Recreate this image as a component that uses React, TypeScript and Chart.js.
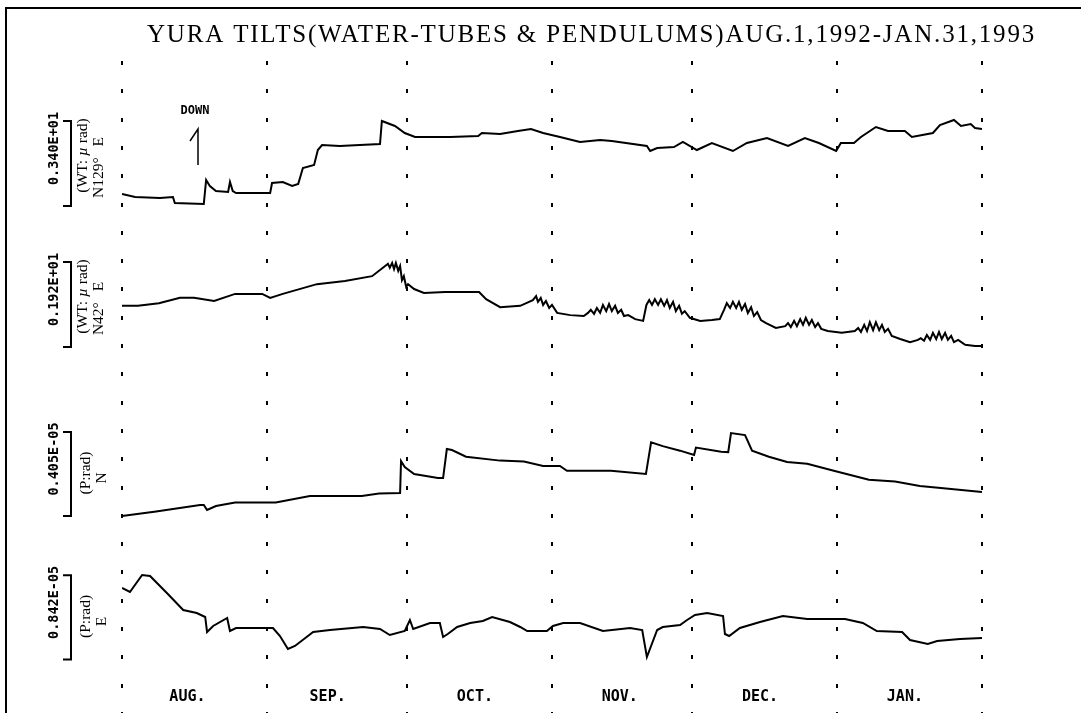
import React, { useEffect, useRef } from "react";
import { Chart, registerables } from "chart.js";

Chart.register(...registerables);

// ---------- text ----------
const TITLE = "YURA TILTS(WATER-TUBES & PENDULUMS)AUG.1,1992-JAN.31,1993";
const monthNames = ["AUG.", "SEP.", "OCT.", "NOV.", "DEC.", "JAN."];
// days since Aug 1, 1992
const monthBoundaryDays = [0, 31, 61, 92, 122, 153, 184];
const monthLabelDays = [14, 44, 75.5, 106.5, 136.5, 167.5];

// scale bars (µrad) and their labels
const scaleValues = [3.4, 1.92, 4.05, 8.42];
const scaleLabels = ["0.340E+01", "0.192E+01", "0.405E-05", "0.842E-05"];
const unitLabels = ["(WT: µ rad)", "(WT: µ rad)", "(P:rad)", "(P:rad)"];
const dirLabels = ["N129°\u2002\u2009E", "N42°\u2002\u2009E", "N", "E"];

// ---------- data: [day, relative tilt (µrad)] ----------
const t1Readings: [number, number][] = [
  [0, 0.48], [2.8, 0.36], [8.1, 0.32], [10.9, 0.36], [11.3, 0.12], [17.5, 0.08], [18.0, 1.04], [18.8, 0.8],
  [20.1, 0.6], [22.7, 0.56], [23.1, 0.96], [23.7, 0.6], [24.4, 0.52], [31.7, 0.52], [32.1, 0.92], [34.4, 0.96],
  [36.4, 0.8], [37.7, 0.88], [38.7, 1.52], [41.1, 1.64], [41.9, 2.24], [42.8, 2.44], [46.6, 2.4], [50.9, 2.44],
  [55.2, 2.48], [55.6, 3.4], [58.4, 3.2], [60.5, 2.92], [62.7, 2.76], [70.2, 2.76], [76.2, 2.8], [77.0, 2.92],
  [80.9, 2.88], [84.7, 3.0], [87.5, 3.08], [90.1, 2.92], [93.7, 2.76], [98.0, 2.56], [102.3, 2.64], [104.8, 2.6],
  [112.3, 2.4], [113.0, 2.2], [114.5, 2.32], [118.1, 2.36], [120.0, 2.56], [123.0, 2.24], [126.2, 2.52], [130.7, 2.2],
  [133.7, 2.52], [138.0, 2.72], [142.5, 2.4], [146.1, 2.72], [149.1, 2.52], [152.8, 2.2], [153.8, 2.52], [156.6, 2.52],
  [158.1, 2.76], [161.3, 3.16], [163.9, 3.0], [167.5, 3.0], [169.0, 2.76], [173.5, 2.92], [175.0, 3.24], [178.0, 3.44],
  [179.5, 3.2], [181.6, 3.28], [182.5, 3.12], [184, 3.08],
];

const t2Readings: [number, number][] = [
  [0, 0.93], [3.4, 0.93], [7.9, 0.99], [12.4, 1.11], [15.4, 1.11], [19.7, 1.04], [24.2, 1.2], [30.0, 1.2],
  [31.7, 1.11], [34.4, 1.2], [41.7, 1.42], [47.7, 1.49], [53.5, 1.6], [56.3, 1.83], [56.9, 1.88], [57.3, 1.79],
  [57.8, 1.9], [58.2, 1.76], [58.6, 1.9], [59.1, 1.72], [59.5, 1.83], [59.9, 1.51], [60.3, 1.6], [60.8, 1.36],
  [61.2, 1.42], [62.5, 1.31], [64.6, 1.22], [69.1, 1.24], [76.4, 1.24], [77.9, 1.08], [80.9, 0.9], [85.2, 0.93],
  [87.9, 1.06], [88.6, 1.15], [89.0, 1.02], [89.6, 1.11], [90.1, 0.95], [90.7, 1.04], [91.4, 0.88], [92.0, 0.95],
  [93.1, 0.77], [95.9, 0.72], [98.8, 0.7], [99.7, 0.77], [100.3, 0.84], [101.0, 0.75], [101.6, 0.88], [102.3, 0.77],
  [102.9, 0.95], [103.6, 0.81], [104.2, 0.97], [104.8, 0.81], [105.5, 0.93], [106.1, 0.77], [106.8, 0.84], [107.4, 0.7],
  [108.3, 0.72], [109.8, 0.63], [111.5, 0.59], [112.2, 0.95], [112.8, 1.06], [113.4, 0.95], [114.0, 1.08], [114.7, 0.95],
  [115.3, 1.08], [116.0, 0.93], [116.6, 1.06], [117.2, 0.88], [117.9, 1.02], [118.5, 0.81], [119.2, 0.93], [119.8, 0.75],
  [120.4, 0.81], [121.5, 0.66], [123.7, 0.59], [126.2, 0.61], [127.9, 0.63], [128.8, 0.84], [129.4, 0.99], [130.1, 0.88],
  [130.7, 1.02], [131.4, 0.88], [132.0, 1.02], [132.6, 0.84], [133.3, 0.97], [133.9, 0.77], [134.6, 0.9], [135.2, 0.7],
  [135.9, 0.79], [136.7, 0.61], [137.8, 0.54], [139.9, 0.43], [141.9, 0.47], [142.5, 0.54], [143.1, 0.45], [143.8, 0.59],
  [144.4, 0.47], [145.1, 0.63], [145.7, 0.5], [146.3, 0.66], [147.0, 0.5], [147.6, 0.61], [148.3, 0.45], [148.9, 0.54],
  [149.6, 0.41], [151.0, 0.36], [154.0, 0.32], [156.8, 0.36], [157.5, 0.43], [158.1, 0.34], [158.8, 0.5], [159.4, 0.36],
  [160.0, 0.56], [160.7, 0.38], [161.3, 0.56], [162.0, 0.38], [162.6, 0.5], [163.2, 0.34], [163.9, 0.41], [164.7, 0.25],
  [166.5, 0.18], [168.6, 0.11], [170.3, 0.16], [170.9, 0.2], [171.6, 0.14], [172.2, 0.27], [172.9, 0.16], [173.5, 0.32],
  [174.2, 0.18], [174.8, 0.34], [175.4, 0.18], [176.1, 0.32], [176.7, 0.16], [177.4, 0.25], [178.0, 0.11], [178.9, 0.16],
  [180.4, 0.05], [182.5, 0.02], [184, 0.02],
];

const t3Readings: [number, number][] = [
  [0, 0], [7.3, 0.22], [16.7, 0.53], [17.5, 0.53], [18.2, 0.29], [20.1, 0.48], [24.2, 0.65], [32.9, 0.65],
  [40.2, 0.96], [51.3, 0.96], [55.0, 1.08], [59.5, 1.11], [59.7, 2.65], [60.5, 2.36], [62.5, 2.02], [67.6, 1.83],
  [68.7, 1.83], [69.5, 3.23], [70.6, 3.18], [73.6, 2.86], [80.9, 2.67], [86.0, 2.63], [90.1, 2.41], [93.7, 2.41],
  [95.2, 2.18], [104.6, 2.18], [112.1, 2.03], [113.2, 3.55], [115.7, 3.37], [119.4, 3.15], [122.4, 2.94], [122.8, 3.3],
  [128.2, 3.1], [129.7, 3.08], [130.3, 4.0], [133.3, 3.9], [134.8, 3.15], [138.4, 2.86], [142.3, 2.6], [146.6, 2.52],
  [152.5, 2.17], [159.8, 1.75], [165.4, 1.66], [170.7, 1.45], [175.2, 1.35], [184, 1.16],
];

const t4Readings: [number, number][] = [
  [0, 7.15], [1.7, 6.75], [4.3, 8.45], [6.0, 8.35], [9.6, 6.65], [13.1, 4.95], [16.0, 4.65], [17.8, 4.25],
  [18.2, 2.75], [19.5, 3.35], [22.5, 4.15], [23.1, 2.85], [24.4, 3.15], [32.3, 3.15], [33.8, 2.35], [35.5, 1.05],
  [37.0, 1.35], [40.9, 2.75], [44.5, 2.95], [51.6, 3.25], [55.2, 3.05], [57.3, 2.45], [60.5, 2.85], [61.6, 3.95],
  [62.3, 3.05], [65.9, 3.65], [68.0, 3.65], [68.7, 2.25], [69.7, 2.55], [71.7, 3.25], [74.5, 3.65], [77.2, 3.85],
  [79.2, 4.25], [83.0, 3.75], [85.2, 3.25], [86.7, 2.85], [90.9, 2.85], [92.2, 3.35], [94.4, 3.65], [98.0, 3.65],
  [102.9, 2.85], [108.7, 3.15], [111.3, 2.95], [112.3, 0.25], [114.5, 2.95], [115.7, 3.25], [119.4, 3.45], [120.9, 3.95],
  [122.6, 4.45], [125.2, 4.65], [128.6, 4.35], [129.0, 2.55], [129.9, 2.35], [132.2, 3.15], [136.5, 3.75], [141.4, 4.35],
  [146.6, 4.05], [154.7, 4.05], [158.5, 3.65], [161.5, 2.85], [166.9, 2.75], [168.6, 1.95], [172.4, 1.55], [174.4, 1.85],
  [179.3, 2.05], [184, 2.15],
];

const traces = [t1Readings, t2Readings, t3Readings, t4Readings];

// ---------- layout (pixels) ----------
const W = 1081;
const H = 713;
const PLOT_LEFT = 122;
const PLOT_RIGHT = 982;
const PLOT_TOP = 63;
const PLOT_BOTTOM = 713;
const bracketBottomPx = [206, 347, 516, 659.5];
const bracketLenPx = [85, 85, 84, 84.2];
const DOT_STEP = 28.3;

function axisRange(i: number) {
  const upp = scaleValues[i] / bracketLenPx[i];
  return {
    min: -(PLOT_BOTTOM - bracketBottomPx[i]) * upp,
    max: (bracketBottomPx[i] - PLOT_TOP) * upp,
  };
}

function vText(ctx: CanvasRenderingContext2D, parts: [string, string][], x: number, y: number) {
  ctx.save();
  ctx.translate(x, y);
  ctx.rotate(-Math.PI / 2);
  ctx.textBaseline = "middle";
  ctx.textAlign = "left";
  let total = 0;
  for (const [t, f] of parts) {
    ctx.font = f;
    total += ctx.measureText(t).width;
  }
  let cx = -total / 2;
  for (const [t, f] of parts) {
    ctx.font = f;
    ctx.fillText(t, cx, 0);
    cx += ctx.measureText(t).width;
  }
  ctx.restore();
}

const SERIF = '15.5px "Liberation Serif", "Times New Roman", serif';
const SERIF_IT = 'italic 15.5px "Liberation Serif", "Times New Roman", serif';
const MONO_B = 'bold 13.5px "DejaVu Sans Mono", monospace';

const decor = {
  id: "decor",
  beforeDatasetsDraw(chart: any) {
    const ctx: CanvasRenderingContext2D = chart.ctx;
    const xs = chart.scales.x;
    ctx.save();
    ctx.fillStyle = "#000";
    for (const d of monthBoundaryDays) {
      const x = Math.round(xs.getPixelForValue(d));
      for (let y = PLOT_TOP; y <= H + 3; y += DOT_STEP) {
        ctx.fillRect(x - 1, Math.round(y) - 2, 2, 4);
      }
    }
    ctx.restore();
  },
  afterDraw(chart: any) {
    const ctx: CanvasRenderingContext2D = chart.ctx;
    const xs = chart.scales.x;
    ctx.save();
    ctx.fillStyle = "#000";
    ctx.strokeStyle = "#000";

    // frame
    ctx.lineWidth = 2;
    ctx.beginPath();
    ctx.moveTo(6, H);
    ctx.lineTo(6, 8);
    ctx.lineTo(W, 8);
    ctx.stroke();

    // title
    ctx.font = '25px "Liberation Serif", "Times New Roman", serif';
    ctx.textAlign = "left";
    ctx.textBaseline = "alphabetic";
    const natural = ctx.measureText(TITLE).width;
    const targetW = 889;
    if ("letterSpacing" in ctx) {
      (ctx as any).letterSpacing = ((targetW - natural) / TITLE.length).toFixed(2) + "px";
    }
    ctx.fillText(TITLE, 147, 42);
    if ("letterSpacing" in ctx) (ctx as any).letterSpacing = "0px";

    // month labels
    ctx.font = 'bold 15px "DejaVu Sans Mono", monospace';
    ctx.textAlign = "center";
    ctx.textBaseline = "middle";
    monthNames.forEach((m, i) => {
      ctx.fillText(m, xs.getPixelForValue(monthLabelDays[i]), 697);
    });

    // scale brackets + labels
    for (let i = 0; i < 4; i++) {
      const ys = chart.scales["y" + (i + 1)];
      const yb = ys.getPixelForValue(0);
      const yt = ys.getPixelForValue(scaleValues[i]);
      const c = (yb + yt) / 2;
      ctx.lineWidth = 2;
      ctx.beginPath();
      ctx.moveTo(63, yt);
      ctx.lineTo(71, yt);
      ctx.lineTo(71, yb);
      ctx.lineTo(63, yb);
      ctx.stroke();
      vText(ctx, [[scaleLabels[i], MONO_B]], 54, c - 15);
      const u = unitLabels[i];
      if (u.includes("µ")) {
        const [a, b] = u.split("µ");
        vText(ctx, [[a, SERIF], ["µ", SERIF_IT], [b, SERIF]], 83, c - 8);
      } else {
        vText(ctx, [[u, SERIF]], 86, c - 1);
      }
      vText(ctx, [[dirLabels[i], SERIF]], i < 2 ? 99 : 102, c + 4);
    }

    // DOWN marker
    ctx.font = 'bold 12px "DejaVu Sans Mono", monospace';
    ctx.textAlign = "center";
    ctx.textBaseline = "middle";
    ctx.fillText("DOWN", 195, 111);
    ctx.lineWidth = 1.5;
    ctx.beginPath();
    ctx.moveTo(190, 141);
    ctx.lineTo(198, 129);
    ctx.lineTo(198, 165);
    ctx.stroke();

    ctx.restore();
  },
};

export default function App() {
  const ref = useRef<HTMLCanvasElement | null>(null);

  useEffect(() => {
    if (!ref.current) return;
    const datasets = traces.map((tr, i) => ({
      label: "trace" + (i + 1),
      data: tr.map(([d, v]) => ({ x: d, y: v })),
      yAxisID: "y" + (i + 1),
      borderColor: "#000",
      borderWidth: 2,
      pointRadius: 0,
      tension: 0,
      fill: false,
    }));
    const yScales: any = {};
    for (let i = 0; i < 4; i++) {
      const r = axisRange(i);
      yScales["y" + (i + 1)] = { type: "linear", display: false, min: r.min, max: r.max };
    }
    const chart = new Chart(ref.current, {
      type: "line",
      data: { datasets },
      options: {
        animation: false,
        responsive: false,
        devicePixelRatio: 1,
        layout: {
          padding: { left: PLOT_LEFT, right: W - PLOT_RIGHT, top: PLOT_TOP, bottom: H - PLOT_BOTTOM },
        },
        plugins: { legend: { display: false }, tooltip: { enabled: false }, title: { display: false } },
        scales: {
          x: { type: "linear", display: false, min: 0, max: 184 },
          ...yScales,
        },
      },
      plugins: [decor],
    } as any);
    return () => chart.destroy();
  }, []);

  return (
    <div style={{ position: "fixed", left: 0, top: 0, width: W, height: H, background: "#fff" }}>
      <canvas ref={ref} width={W} height={H} style={{ display: "block" }} />
    </div>
  );
}
